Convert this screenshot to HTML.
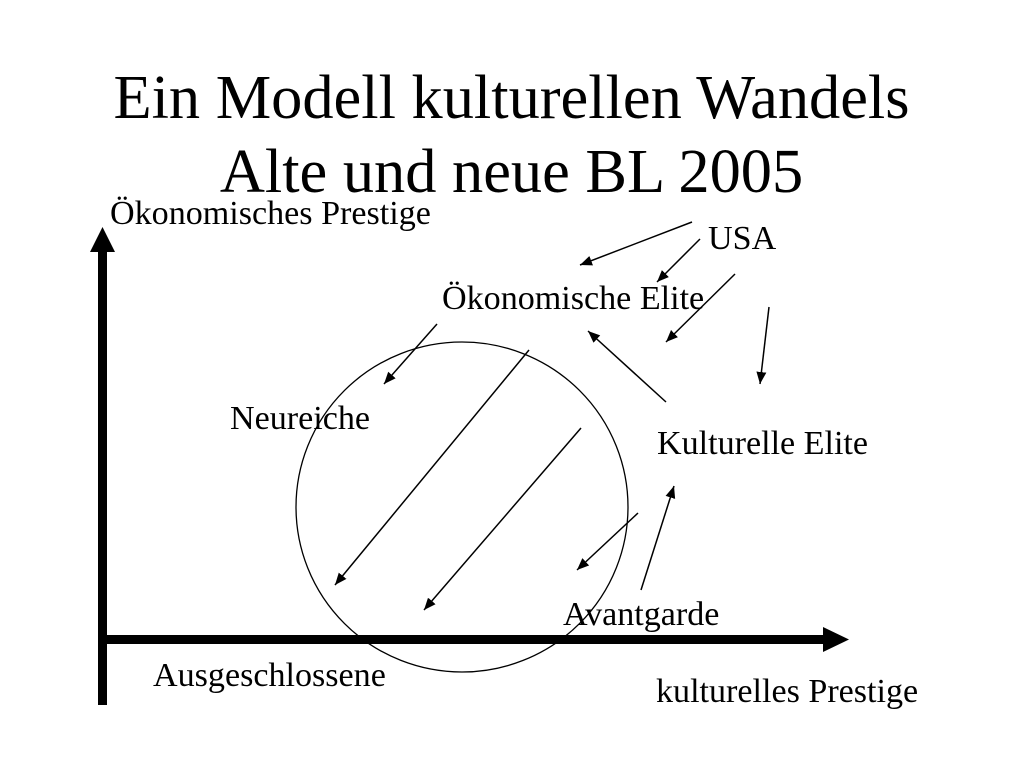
<!DOCTYPE html>
<html>
<head>
<meta charset="utf-8">
<style>
html,body{margin:0;padding:0;background:#fff;}
svg{display:block;}
text{font-family:"Liberation Serif",serif;fill:#000;}
</style>
</head>
<body>
<svg width="1024" height="768" viewBox="0 0 1024 768" xmlns="http://www.w3.org/2000/svg">
<defs>
<marker id="a" markerUnits="userSpaceOnUse" markerWidth="13" markerHeight="11" refX="12" refY="5" orient="auto">
<path d="M0 0L12 5L0 10Z" fill="#000"/>
</marker>
</defs>
<rect width="1024" height="768" fill="#fff"/>
<text x="511.5" y="118" font-size="62.4" text-anchor="middle">Ein Modell kulturellen Wandels</text>
<text x="511.5" y="192" font-size="62.4" text-anchor="middle">Alte und neue BL 2005</text>

<ellipse cx="462" cy="507" rx="166" ry="165" fill="none" stroke="#000" stroke-width="1.3"/>

<rect x="98" y="250" width="9" height="455" fill="#000"/>
<path d="M90 252L102.5 227L115 252Z" fill="#000"/>
<rect x="106" y="635" width="720" height="9" fill="#000"/>
<path d="M823 627L849 639.5L823 652Z" fill="#000"/>

<g stroke="#000" stroke-width="1.5" fill="none" marker-end="url(#a)">
<line x1="692" y1="222" x2="580" y2="265"/>
<line x1="700" y1="239" x2="657" y2="282"/>
<line x1="735" y1="274" x2="666" y2="342"/>
<line x1="769" y1="307" x2="760" y2="384"/>
<line x1="437" y1="324" x2="384" y2="384"/>
<line x1="529" y1="350" x2="335" y2="585"/>
<line x1="581" y1="428" x2="424" y2="610"/>
<line x1="666" y1="402" x2="588" y2="331"/>
<line x1="638" y1="513" x2="577" y2="570"/>
<line x1="641" y1="590" x2="674" y2="486"/>
</g>

<g font-size="34.1">
<text x="110" y="224">Ökonomisches Prestige</text>
<text x="708" y="249">USA</text>
<text x="442" y="309">Ökonomische Elite</text>
<text x="230" y="429">Neureiche</text>
<text x="657" y="454">Kulturelle Elite</text>
<text x="563" y="625">Avantgarde</text>
<text x="153" y="686">Ausgeschlossene</text>
<text x="656" y="702">kulturelles Prestige</text>
</g>
</svg>
</body>
</html>
